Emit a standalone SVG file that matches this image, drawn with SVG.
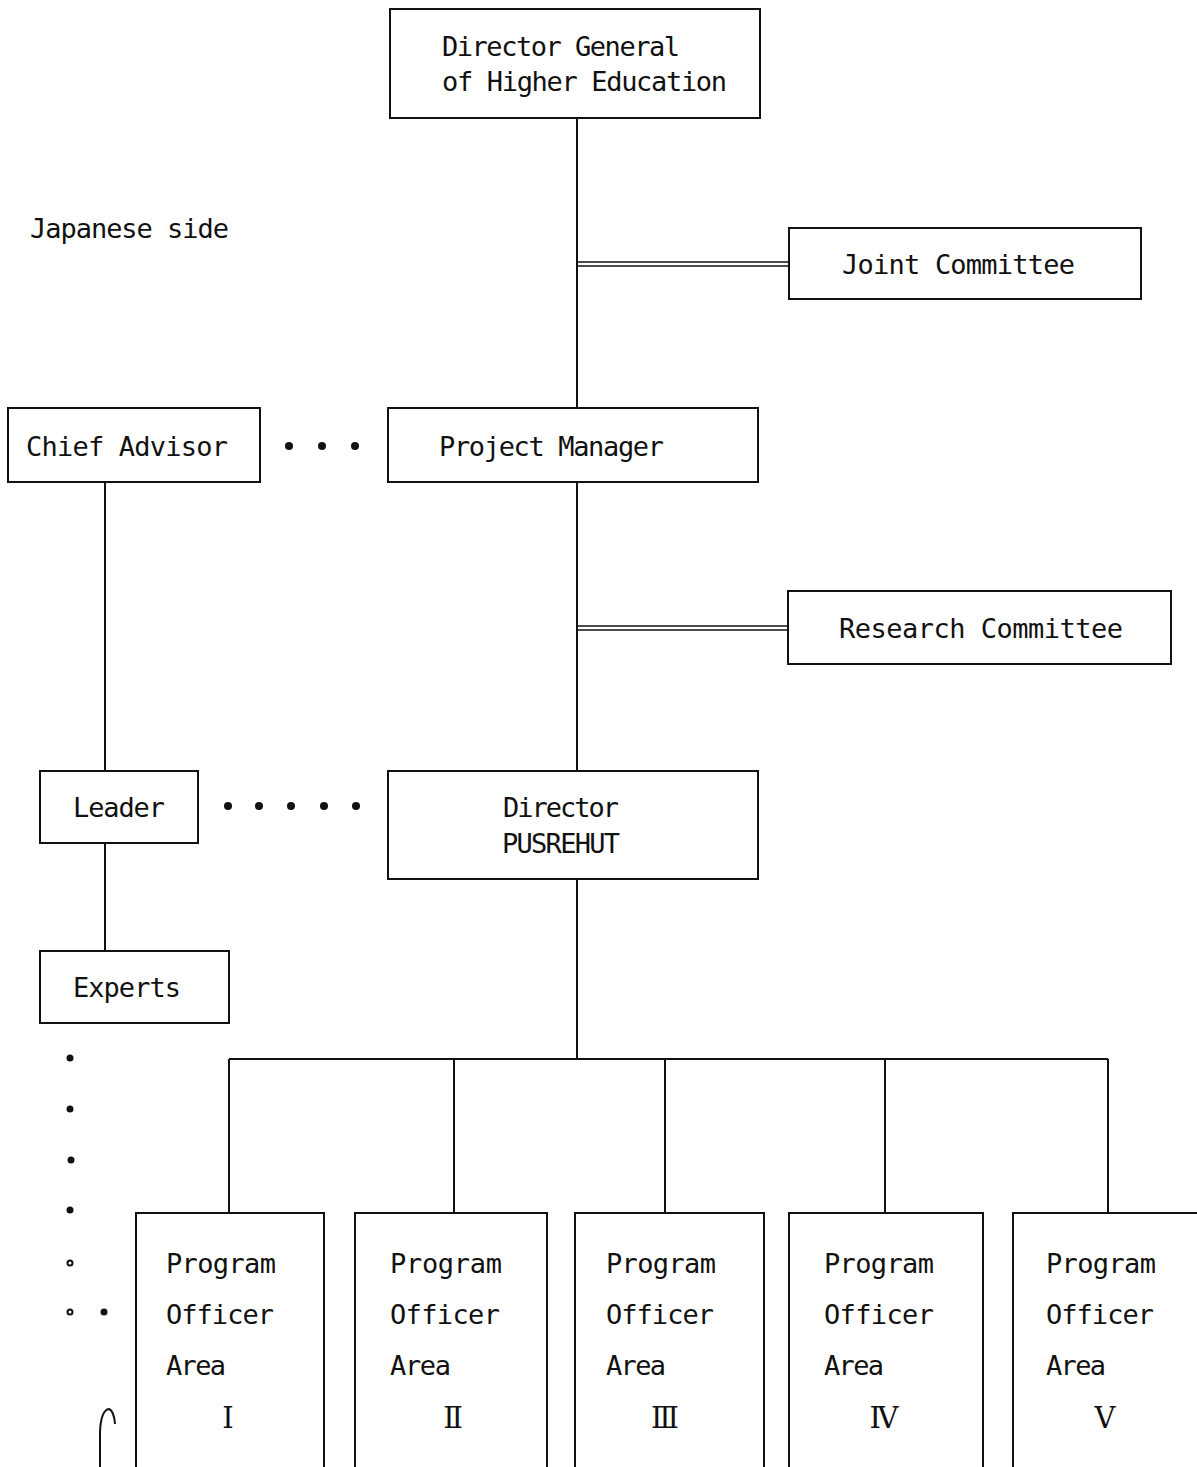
<svg xmlns="http://www.w3.org/2000/svg" width="1197" height="1467" viewBox="0 0 1197 1467">
<style>
.box{fill:#fff;stroke:#111;stroke-width:2}
.ln{fill:none;stroke:#111;stroke-width:2}
.dl{fill:none;stroke:#111;stroke-width:1.5}
.t{font-family:"DejaVu Sans Mono","Liberation Mono",monospace;font-size:27px;fill:#111}
.n{font-family:"DejaVu Serif","Noto Sans CJK JP",serif;font-size:29px;fill:#111;text-anchor:middle}
.dot{fill:#111}
.ring{fill:none;stroke:#111;stroke-width:2}
</style>
<rect width="1197" height="1467" fill="#fff"/>
<g id="connectors">
<path class="ln" d="M577 118V408M577 482V771M577 879V1059"/>
<path class="dl" d="M577 262H789M577 266H789"/>
<path class="dl" d="M577 626H788M577 630H788"/>
<path class="ln" d="M105 482V771M105 843V951"/>
<path class="ln" d="M229 1059H1108M229 1059V1213M454 1059V1213M665 1059V1213M885 1059V1213M1108 1059V1213"/>
<g id="dots-ca"><circle class="dot" cx="289" cy="446" r="4"/><circle class="dot" cx="322" cy="446" r="4"/><circle class="dot" cx="355" cy="446" r="4"/></g>
<g id="dots-leader"><circle class="dot" cx="228" cy="806" r="4"/><circle class="dot" cx="259" cy="806" r="4"/><circle class="dot" cx="291" cy="806" r="4"/><circle class="dot" cx="324" cy="806" r="4"/><circle class="dot" cx="356" cy="806" r="4"/></g>
<g id="dots-experts"><circle class="dot" cx="70" cy="1058" r="3.5"/><circle class="dot" cx="70" cy="1109" r="3.5"/><circle class="dot" cx="71" cy="1160" r="3.5"/><circle class="dot" cx="70" cy="1210" r="3.5"/><circle class="ring" cx="70" cy="1263" r="2.5"/><circle class="ring" cx="70" cy="1312" r="2.5"/><circle class="dot" cx="104" cy="1312" r="3.5"/></g>
<path class="ln" d="M100 1467V1432Q101 1410 109 1409Q114 1411 115 1424"/>
</g>
<text class="t" x="30" y="238" textLength="199">Japanese side</text>
<g id="dg"><rect class="box" x="390" y="9" width="370" height="109"/>
<text class="t" x="442" y="56" textLength="238">Director General</text>
<text class="t" x="442" y="91" textLength="285">of Higher Education</text></g>
<g id="joint"><rect class="box" x="789" y="228" width="352" height="71"/>
<text class="t" x="842" y="274" textLength="233">Joint Committee</text></g>
<g id="chief"><rect class="box" x="8" y="408" width="252" height="74"/>
<text class="t" x="26" y="456" textLength="202">Chief Advisor</text></g>
<g id="pm"><rect class="box" x="388" y="408" width="370" height="74"/>
<text class="t" x="439" y="456" textLength="225">Project Manager</text></g>
<g id="research"><rect class="box" x="788" y="591" width="383" height="73"/>
<text class="t" x="839" y="638" textLength="284">Research Committee</text></g>
<g id="leader"><rect class="box" x="40" y="771" width="158" height="72"/>
<text class="t" x="73" y="817" textLength="92">Leader</text></g>
<g id="director"><rect class="box" x="388" y="771" width="370" height="108"/>
<text class="t" x="503" y="817" textLength="116">Director</text>
<text class="t" x="502" y="853" textLength="118">PUSREHUT</text></g>
<g id="experts"><rect class="box" x="40" y="951" width="189" height="72"/>
<text class="t" x="73" y="997" textLength="108">Experts</text></g>
<g id="po1"><path class="ln" d="M136 1467V1213H324V1467"/>
<text class="t" x="166" y="1273" textLength="110">Program</text><text class="t" x="166" y="1324" textLength="108">Officer</text><text class="t" x="166" y="1375" textLength="60">Area</text><text class="n" x="228" y="1428">Ⅰ</text></g>
<g id="po2"><path class="ln" d="M355 1467V1213H547V1467"/>
<text class="t" x="390" y="1273" textLength="112">Program</text><text class="t" x="390" y="1324" textLength="110">Officer</text><text class="t" x="390" y="1375" textLength="61">Area</text><text class="n" x="453" y="1428">Ⅱ</text></g>
<g id="po3"><path class="ln" d="M575 1467V1213H764V1467"/>
<text class="t" x="606" y="1273" textLength="110">Program</text><text class="t" x="606" y="1324" textLength="108">Officer</text><text class="t" x="606" y="1375" textLength="60">Area</text><text class="n" x="665" y="1428">Ⅲ</text></g>
<g id="po4"><path class="ln" d="M789 1467V1213H983V1467"/>
<text class="t" x="824" y="1273" textLength="110">Program</text><text class="t" x="824" y="1324" textLength="110">Officer</text><text class="t" x="824" y="1375" textLength="60">Area</text><text class="n" x="884" y="1428">Ⅳ</text></g>
<g id="po5"><path class="ln" d="M1013 1467V1213H1199"/>
<text class="t" x="1046" y="1273" textLength="110">Program</text><text class="t" x="1046" y="1324" textLength="108">Officer</text><text class="t" x="1046" y="1375" textLength="60">Area</text><text class="n" x="1105" y="1428">Ⅴ</text></g>
</svg>
